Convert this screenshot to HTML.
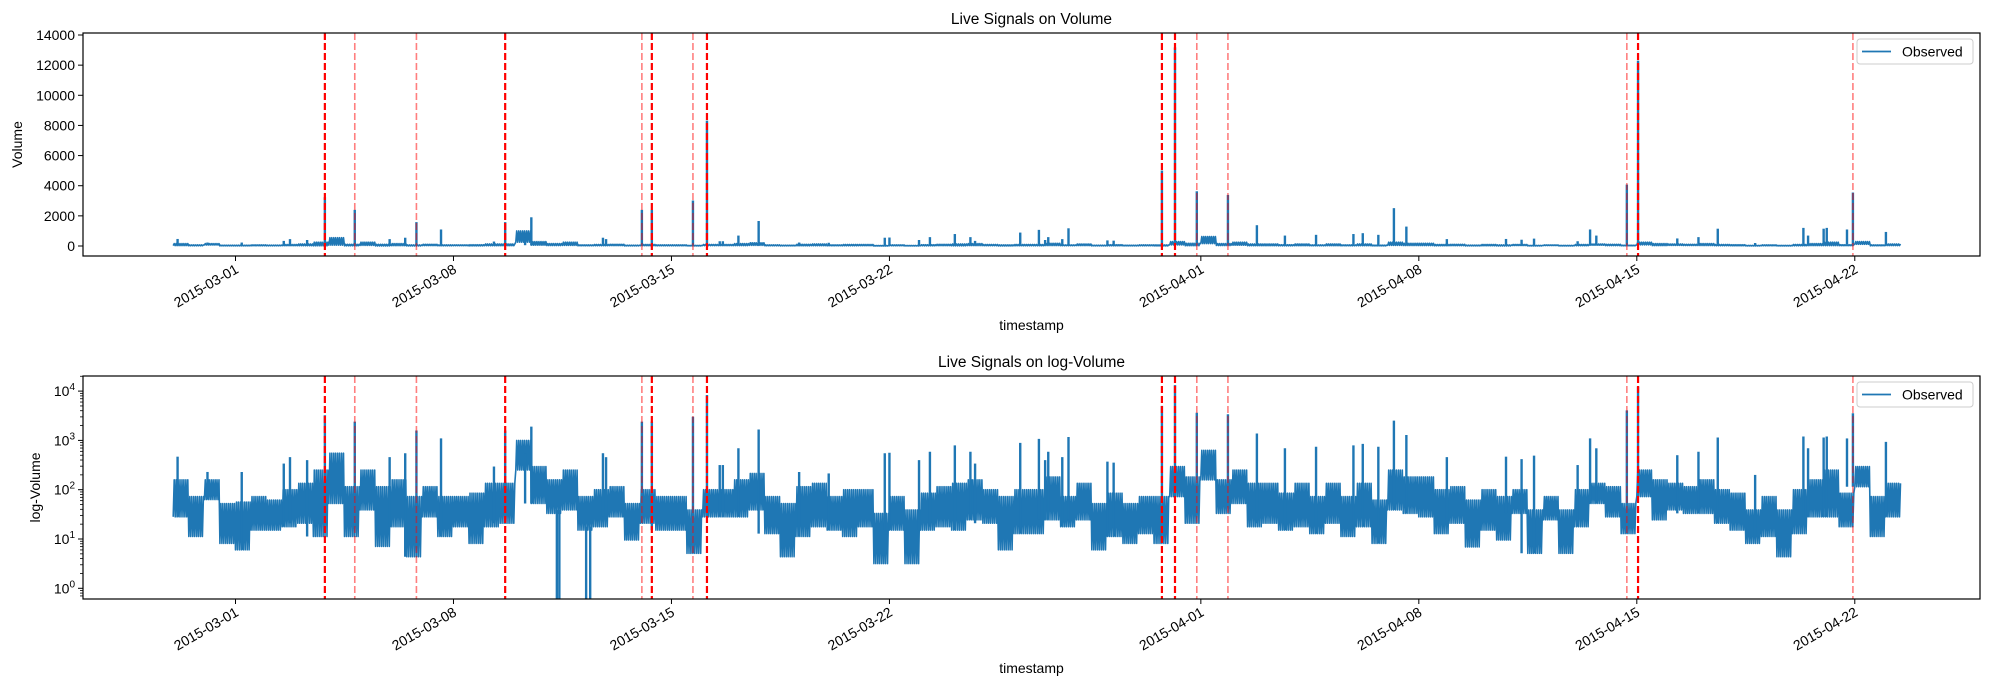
<!DOCTYPE html>
<html><head><meta charset="utf-8"><style>
body{margin:0;background:#fff}
svg{display:block;font-family:"Liberation Sans","DejaVu Sans",sans-serif}
</style></head><body>
<svg id="chart" width="1990" height="690" viewBox="0 0 1990 690" xmlns="http://www.w3.org/2000/svg"></svg>
<script>
// ---- data (days since 2015-03-01, half-day samples starting at day -2) ----
const sampleStart = -2;
const sampleStep = 0.5;
const logLo = [1.45,1.05,1.8,0.91,0.78,1.18,1.18,1.25,1.32,1.05,1.72,1.05,1.59,0.85,1.25,0.64,1.45,1.05,1.25,0.91,1.25,1.32,2.4,1.72,1.52,1.59,1.18,1.25,1.45,0.98,1.32,1.18,1.18,0.71,1.45,1.45,1.45,1.59,1.11,0.64,1.05,1.25,1.18,1.05,1.25,0.5,1.18,0.5,1.18,1.25,1.18,1.39,1.32,0.78,1.11,1.11,1.39,1.25,1.39,0.78,1.05,0.91,1.11,0.91,1.86,1.32,2.2,1.52,1.72,1.25,1.32,1.18,1.25,1.11,1.32,1.05,1.25,0.91,1.59,1.52,1.45,1.11,1.32,0.84,1.18,0.98,1.52,0.71,1.39,0.71,1.25,1.72,1.45,1.11,1.86,1.39,1.59,1.52,1.52,1.32,1.18,0.91,1.05,0.64,1.11,1.45,1.45,1.25,2.06,1.05,1.45];
const logHi = [2.2,1.86,2.2,1.72,1.75,1.86,1.79,2.0,2.13,2.4,2.74,2.06,2.4,2.06,2.2,1.86,2.06,1.86,1.86,1.93,2.13,2.13,3.0,2.47,2.2,2.4,1.86,2.0,2.06,1.72,2.0,1.86,1.86,1.59,2.0,2.0,2.2,2.33,1.86,1.72,2.06,2.13,1.86,2.0,2.0,1.52,1.86,1.59,1.93,2.06,2.13,2.2,2.0,1.86,2.0,2.0,2.26,1.86,2.13,1.72,1.93,1.72,1.86,1.86,2.47,2.26,2.8,2.2,2.4,2.13,2.13,1.93,2.13,1.86,2.13,1.86,2.13,1.79,2.4,2.26,2.26,2.0,2.06,1.79,2.0,1.86,2.0,1.59,1.86,1.59,2.0,2.13,2.06,1.72,2.4,2.2,2.13,2.06,2.2,2.0,1.93,1.59,1.86,1.59,2.0,2.2,2.4,1.93,2.47,1.86,2.13];
const spikeDays = [-1.86,-0.9,0.2,1.55,1.75,2.3,2.87,3.83,4.95,5.45,5.81,6.6,8.3,8.66,9.5,9.3,10.32,10.4,11.26,11.39,11.8,11.9,13.05,13.37,14.69,15.14,15.55,15.65,16.15,16.8,18.1,19.05,20.85,21.0,21.95,22.3,23.1,23.6,23.75,25.2,25.8,26.0,26.1,26.75,26.55,28.0,28.2,29.75,30.17,30.87,31.87,32.8,33.7,34.7,35.9,36.2,36.7,37.2,37.6,38.9,40.8,41.3,41.7,43.1,43.5,43.7,44.68,45.04,46.3,46.98,47.6,48.8,50.35,50.5,51.0,51.1,51.75,51.94,53.0];
const spikeLogs = [2.67,2.36,2.36,2.53,2.66,2.6,3.51,3.38,2.66,2.74,3.2,3.04,2.47,3.2,3.28,2.74,-1,-1,-1,-1,2.74,2.66,3.38,3.38,3.48,3.92,2.5,2.5,2.84,3.22,2.36,2.33,2.74,2.75,2.6,2.77,2.9,2.77,2.53,2.95,3.03,2.6,2.77,3.07,2.66,2.57,2.55,3.7,4.12,3.56,3.53,3.14,2.84,2.87,2.9,2.93,2.87,3.4,3.11,2.66,2.67,2.62,2.69,2.5,3.04,2.84,3.61,4.09,2.7,2.77,3.06,2.3,3.08,2.84,3.06,3.08,3.04,3.55,2.97];
const eventDays = [2.87,3.83,5.81,8.66,13.05,13.37,14.69,15.14,29.75,30.17,30.87,31.87,44.68,45.04,51.94];
const eventStrength = [1,0.5,0.5,1,0.5,1,0.5,1,1,1,0.5,0.5,0.5,1,0.5];
const xTickDays = [0,7,14,21,31,38,45,52];
const xTickLabels = ["2015-03-01","2015-03-08","2015-03-15","2015-03-22","2015-04-01","2015-04-08","2015-04-15","2015-04-22"];
const linTicks = [0,2000,4000,6000,8000,10000,12000,14000];
const logTicks = [0,1,2,3,4];

const NS="http://www.w3.org/2000/svg";
const svg=document.getElementById('chart');
function mk(tag,attrs,parent){const e=document.createElementNS(NS,tag);for(const k in attrs)e.setAttribute(k,attrs[k]);(parent||svg).appendChild(e);return e;}

const L=83,R=1980;
const xs=d=>235.5+(d)*31.14;
const panels=[
 {top:33,bot:256,log:false,title:"Live Signals on Volume",ylabel:"Volume",name:"volume"},
 {top:376,bot:599,log:true,title:"Live Signals on log-Volume",ylabel:"log-Volume",name:"log-volume"}
];
const defs=mk('defs',{});
panels.forEach((p,pi)=>{
  const ys = p.log ? (v=>539-(v-1)*49.3) : (v=>246-Math.pow(10,v)*0.015071);
  const cp=mk('clipPath',{id:'clip'+pi},defs);
  mk('rect',{x:L,y:p.top,width:R-L,height:p.bot-p.top},cp);
  const g=mk('g',{});
  
  
  const t=mk('text',{x:(L+R)/2,y:p.top-9,'text-anchor':'middle','font-size':15.5,fill:'#000'},g);
  t.textContent=p.title;
  
  
  const plot=mk('g',{'clip-path':'url(#clip'+pi+')'},g);
  let pts=[];
  for(let i=0;i<logLo.length;i++){
    const t0=sampleStart+i*sampleStep;
    const n=8;
    for(let k=0;k<n;k++){
      const ta=t0+sampleStep*(2*k)/(2*n), tb=t0+sampleStep*(2*k+1)/(2*n);
      pts.push(xs(ta).toFixed(1)+','+ys(logLo[i]).toFixed(1));
      pts.push(xs(tb).toFixed(1)+','+ys(logHi[i]).toFixed(1));
    }
  }
  const line=mk('polyline',{points:pts.join(' '),fill:'none',stroke:'#1f77b4','stroke-width':1.6,'stroke-linejoin':'round'},plot);
  
  
  spikeDays.forEach((d,j)=>{
    const idx=Math.max(0,Math.min(logLo.length-1,Math.round((d-sampleStart)/sampleStep)));
    const base=logLo[idx];
    const yv=spikeLogs[j]<0?(p.log?p.bot+20:ys(base)):ys(spikeLogs[j]);
    const s=mk('line',{x1:xs(d),x2:xs(d),y1:ys(base),y2:yv,stroke:'#1f77b4','stroke-width':2.4},plot);
    
    
  });
  eventDays.forEach((d,j)=>{
    const st=eventStrength[j];
    const e=mk('line',{x1:xs(d),x2:xs(d),y1:p.top,y2:p.bot,stroke:'red','stroke-opacity':st,'stroke-width':st>0.9?2.2:1.6,'stroke-dasharray':'7,3'},g);
    
    
  });
  const fr=mk('rect',{x:L,y:p.top,width:R-L,height:p.bot-p.top,fill:'none',stroke:'#000','stroke-width':1.2},g);
  
  
  if(!p.log){
    linTicks.forEach(v=>{
      const y=246-v*0.015071;
      mk('line',{x1:L-5,x2:L,y1:y,y2:y,stroke:'#000','stroke-width':1},g);
      const tl=mk('text',{x:L-8,y:y+5,'text-anchor':'end','font-size':14,fill:'#000'},g);
      tl.textContent=String(v);
      
      
    });
  } else {
    for(let dcd=-1;dcd<=4;dcd++){
      for(let m=2;m<=9;m++){
        const y=ys(dcd+Math.log10(m));
        if(y>p.top&&y<p.bot) mk('line',{x1:L-3,x2:L,y1:y,y2:y,stroke:'#000','stroke-width':0.8},g);
      }
    }
    logTicks.forEach(v=>{
      const y=ys(v);
      mk('line',{x1:L-5,x2:L,y1:y,y2:y,stroke:'#000','stroke-width':1},g);
      const tl=mk('text',{x:L-8,y:y+5,'text-anchor':'end','font-size':14,fill:'#000'},g);
      const a=mk('tspan',{},tl);a.textContent='10';
      const b=mk('tspan',{dy:-6,'font-size':10},tl);b.textContent=String(v);
      
      
    });
  }
  const yl=mk('text',{x:0,y:0,'text-anchor':'middle','font-size':14,fill:'#000',transform:`translate(${p.log?40:22},${(p.top+p.bot)/2}) rotate(-90)`},g);
  yl.textContent=p.ylabel;
  
  
  xTickDays.forEach((d,j)=>{
    const x=xs(d);
    mk('line',{x1:x,x2:x,y1:p.bot,y2:p.bot+5,stroke:'#000','stroke-width':1},g);
    const tl=mk('text',{x:0,y:0,'text-anchor':'end','font-size':14,fill:'#000',transform:`translate(${x+4},${p.bot+16}) rotate(-30)`},g);
    tl.textContent=xTickLabels[j];
    
    
  });
  const xl=mk('text',{x:(L+R)/2,y:p.bot+74,'text-anchor':'middle','font-size':14,fill:'#000'},g);
  xl.textContent='timestamp';
  
  
  const lg=mk('g',{},g);
  
  
  mk('rect',{x:1857,y:p.top+6,width:116,height:25,rx:3,fill:'#fff','fill-opacity':0.85,stroke:'#ccc','stroke-width':1},lg);
  mk('line',{x1:1862,x2:1891,y1:p.top+18.5,y2:p.top+18.5,stroke:'#1f77b4','stroke-width':1.8},lg);
  const lt=mk('text',{x:1902,y:p.top+23.5,'font-size':14,fill:'#000'},lg);
  lt.textContent='Observed';
  
  
});
</script>
</body></html>
